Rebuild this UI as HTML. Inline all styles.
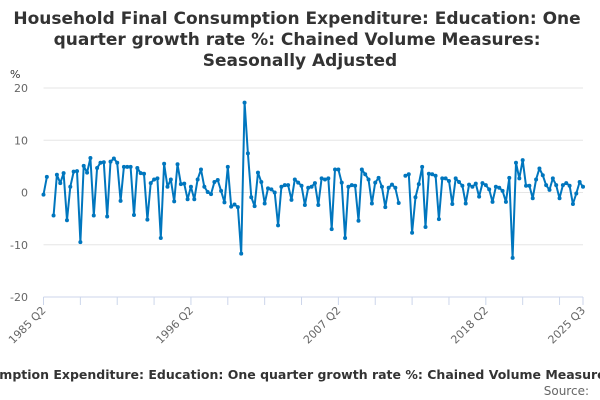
<!DOCTYPE html>
<html><head><meta charset="utf-8">
<style>
body{margin:0;width:600px;height:400px;overflow:hidden;background:#fff;font-family:"DejaVu Sans","Liberation Sans",sans-serif;}
svg{display:block}
</style></head>
<body>
<svg id="chart" width="600" height="400" font-family="DejaVu Sans, Liberation Sans, sans-serif">
<text x="300" y="24" text-anchor="middle" font-size="17" font-weight="bold" fill="#333">
<tspan x="300" dy="0">Household Final Consumption Expenditure: Education: One</tspan>
<tspan x="300" dy="21">quarter growth rate %: Chained Volume Measures:</tspan>
<tspan x="300" dy="21">Seasonally Adjusted</tspan>
</text>
<text x="10" y="78" font-size="11" fill="#333">%</text>
<g id="grid"></g>
<g id="xaxis"></g>
<g id="series"></g>
<text x="302" y="379" text-anchor="middle" font-size="12.5" font-weight="bold" fill="#333">Household Final Consumption Expenditure: Education: One quarter growth rate %: Chained Volume Measures: Seasonally Adjusted</text>
<text x="589" y="395" font-size="12" fill="#666" text-anchor="end">Source:</text>
</svg>
<script>
const values = [-0.4,3.0,null,-4.4,3.4,1.8,3.7,-5.3,1.1,4.0,4.1,-9.5,5.1,3.8,6.6,-4.4,4.7,5.7,5.8,-4.6,5.9,6.5,5.7,-1.6,4.9,4.9,4.9,-4.3,4.7,3.7,3.6,-5.2,
1.8,2.5,2.7,-8.7,5.5,1.1,2.5,-1.7,5.4,1.6,1.7,-1.3,1.1,-1.3,2.5,4.4,1.1,0.1,-0.3,2.0,2.4,0.3,-1.9,4.9,-2.7,-2.3,-2.8,-11.7,17.2,7.5,-0.9,-2.6,3.8,
2.0,-2.1,0.8,0.6,0,-6.3,1.1,1.4,1.4,-1.4,2.5,1.9,1.3,-2.4,0.9,1.1,1.8,-2.4,2.7,2.5,2.7,-7.0,4.4,4.4,1.9,-8.7,1.1,1.4,1.3,-5.4,4.4,3.5,2.5,
-2.1,1.9,2.8,1.1,-2.8,0.9,1.5,0.9,-2.0,null,3.2,3.5,-7.7,-0.9,1.6,4.9,-6.6,3.6,3.5,3.2,-5.1,2.7,2.7,2.2,-2.2,2.7,2.0,1.3,-2.1,1.5,1.1,1.7,
-0.8,1.8,1.4,0.6,-1.8,1.1,0.9,0.3,-1.8,2.8,-12.5,5.7,2.7,6.2,1.3,1.3,-1.1,2.5,4.6,3.3,1.4,0.5,2.7,1.4,-1.1,1.4,1.8,1.3,-2.2,-0.2,2.0,1.1];
const yTicks = [20,10,0,-10,-20];
const xTickLabels = ["1985 Q2","1996 Q2","2007 Q2","2018 Q2","2025 Q3"];
const NS="http://www.w3.org/2000/svg";
const X0=43.5,X1=583,Y0=88,Y1=297,VMAX=20,VMIN=-20;
const n=values.length;
const categories=[];
for(let i=0;i<n;i++){const q=1+i;const yr=1985+Math.floor(q/4);categories.push(yr+" Q"+(q%4+1));}
function xs(i){return X0+(X1-X0)*i/(n-1);}
function ys(v){return Y0+(VMAX-v)/(VMAX-VMIN)*(Y1-Y0);}
function el(t,a,p){const e=document.createElementNS(NS,t);for(const k in a)e.setAttribute(k,a[k]);p.appendChild(e);return e;}
const grid=document.getElementById('grid');
yTicks.forEach(t=>{
  const l=el('line',{x1:X0,x2:X1,y1:ys(t),y2:ys(t),stroke:t===-20?'#ccd6eb':'#e6e6e6','stroke-width':1},grid);
  
  
  const tx=el('text',{x:28,y:ys(t)+4,'text-anchor':'end','font-size':11,fill:'#666'},grid);
  tx.textContent=t;
  
  
});
const xa=document.getElementById('xaxis');
for(let i=0;i<n;i+=11){
  const t=el('line',{x1:xs(i),x2:xs(i),y1:Y1,y2:Y1+8,stroke:'#ccd6eb'},xa);
  
  
}
const lt=el('line',{x1:xs(n-1),x2:xs(n-1),y1:Y1,y2:Y1+8,stroke:'#ccd6eb'},xa);


xTickLabels.forEach(lab=>{
  const i=categories.indexOf(lab);const idx=i<0?(lab==="2025 Q3"?n-1:0):i;
  const x=xs(idx),y=Y1+14;
  const tx=el('text',{x:x+3,y:y,'text-anchor':'end','font-size':11,fill:'#666',transform:`rotate(-45 ${x+3} ${y})`},xa);
  tx.textContent=lab;
  
  
});
const sg=document.getElementById('series');
let d='',pen=false;
values.forEach((v,i)=>{if(v===null){pen=false;return;}d+=(pen?'L':'M')+xs(i).toFixed(1)+','+ys(v).toFixed(1);pen=true;});
const p=el('path',{d:d,fill:'none',stroke:'#0076be','stroke-width':2,'stroke-linejoin':'round'},sg);


values.forEach((v,i)=>{if(v===null)return;
  const c=el('circle',{cx:xs(i),cy:ys(v),r:2,fill:'#0076be'},sg);
  
  
});
</script>
</body></html>
